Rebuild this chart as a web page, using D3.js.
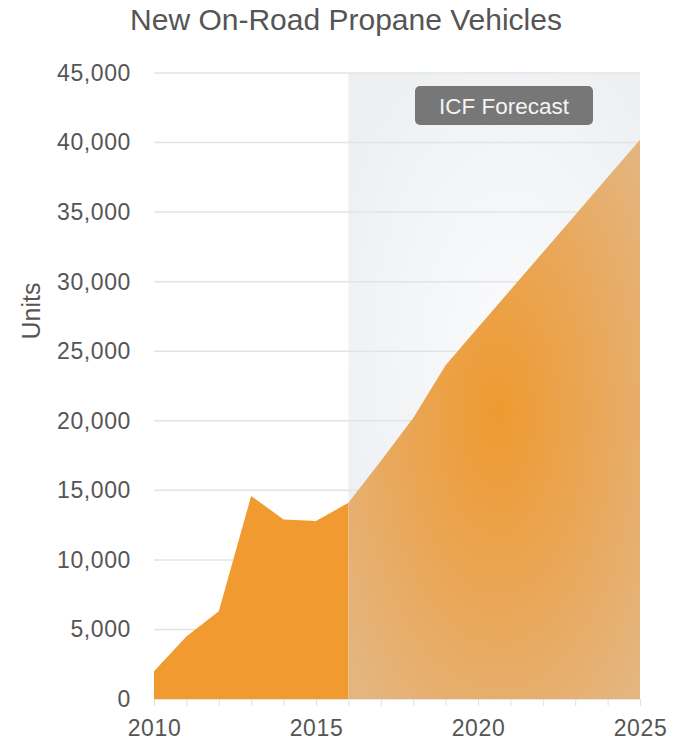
<!DOCTYPE html>
<html><head><meta charset="utf-8">
<script src="https://cdn.jsdelivr.net/npm/d3@7"></script>
<style>body{margin:0;background:#fff;}svg{display:block;font-family:"Liberation Sans",Arial,sans-serif;}</style>
</head><body>
<svg id="c" width="687" height="742"></svg>
<script>
const years = [2010,2011,2012,2013,2014,2015,2016,2017,2018,2019,2020,2021,2022,2023,2024,2025];
const units = [2000,4500,6300,14600,12900,12800,14100,17100,20200,24000,26700,29400,32100,34800,37500,40200];
const yTicks = [0,5000,10000,15000,20000,25000,30000,35000,40000,45000];
const xLabels = [2010,2015,2020,2025];
const forecastStart = 2016;
const title = "New On-Road Propane Vehicles";
const yTitle = "Units";
const bandLabel = "ICF Forecast";

const svg = d3.select("#c");
const L=154, R=640, T=73, B=699;
const x = d3.scaleLinear().domain([2010,2025]).range([L,R]);
const y = d3.scaleLinear().domain([0,45000]).range([B,T]);
const data = years.map((yr,i)=>({yr,v:units[i]}));

const defs = svg.append("defs");
const bcx = x(2021), bcy = y(25000);
const bg = defs.append("radialGradient").attr("id","bandGrad").attr("gradientUnits","userSpaceOnUse")
  .attr("cx",bcx).attr("cy",bcy).attr("r",190)
  .attr("gradientTransform",`translate(${bcx},${bcy}) scale(1,1.8) translate(${-bcx},${-bcy})`);
bg.append("stop").attr("offset","0").attr("stop-color","#fbfbfc");
bg.append("stop").attr("offset","1").attr("stop-color","#edf0f3");
const acx = x(2020.6), acy = y(20500);
const ag = defs.append("radialGradient").attr("id","areaGrad").attr("gradientUnits","userSpaceOnUse")
  .attr("cx",acx).attr("cy",acy).attr("r",190)
  .attr("gradientTransform",`translate(${acx},${acy}) scale(1,2.0) translate(${-acx},${-acy})`);
ag.append("stop").attr("offset","0").attr("stop-color","#ee9a30");
ag.append("stop").attr("offset","0.45").attr("stop-color","#eaa553");
ag.append("stop").attr("offset","1").attr("stop-color","#e4b57f");

// forecast band
svg.append("rect").attr("x",x(forecastStart)).attr("y",T).attr("width",x(2025)-x(forecastStart)).attr("height",B-T)
  .attr("fill","url(#bandGrad)");

// gridlines
svg.append("g").selectAll("line").data(yTicks.filter(d=>d>0)).join("line")
  .attr("x1",L).attr("x2",R).attr("y1",d=>y(d)).attr("y2",d=>y(d))
  .attr("stroke","#e3e3e3").attr("stroke-width",1.5);

const area = d3.area().x(d=>x(d.yr)).y0(y(0)).y1(d=>y(d.v));
svg.append("path").datum(data.filter(d=>d.yr<=forecastStart)).attr("d",area).attr("fill","#f09a30");
svg.append("path").datum(data.filter(d=>d.yr>=forecastStart)).attr("d",area).attr("fill","url(#areaGrad)");

// x axis
const xAxis = d3.axisBottom(x).tickValues(years).tickSize(7).tickFormat(d=>xLabels.includes(d)?d:"");
const gx = svg.append("g").attr("transform",`translate(0,${B})`).call(xAxis);
gx.select(".domain").attr("stroke","#e6e6e6");
gx.selectAll(".tick line").attr("stroke","#e0e0e0");
gx.selectAll(".tick text").attr("fill","#555").attr("font-size","23px").attr("letter-spacing","0.6px")
  .attr("dy","0").attr("y",37);

// y axis
const yAxis = d3.axisLeft(y).tickValues(yTicks).tickSize(0).tickFormat(d3.format(","));
const gy = svg.append("g").attr("transform",`translate(${L-23},0)`).call(yAxis);
gy.select(".domain").remove();
gy.selectAll(".tick text").attr("fill","#555").attr("font-size","23px").attr("letter-spacing","0.6px").attr("x",0);

svg.append("text").attr("x",346).attr("y",30).attr("text-anchor","middle").attr("fill","#555")
  .attr("font-size","30px").text(title);
svg.append("text").attr("transform",`translate(40,${311}) rotate(-90)`).attr("text-anchor","middle")
  .attr("fill","#555").attr("font-size","25px").text(yTitle);

// forecast label
const lg = svg.append("g");
lg.append("rect").attr("x",415).attr("y",86).attr("width",178).attr("height",39).attr("rx",5)
  .attr("fill","#777");
lg.append("text").attr("x",504).attr("y",113.5).attr("text-anchor","middle").attr("fill","#f4f4f4")
  .attr("font-size","22.5px").text(bandLabel);
</script>
</body></html>
